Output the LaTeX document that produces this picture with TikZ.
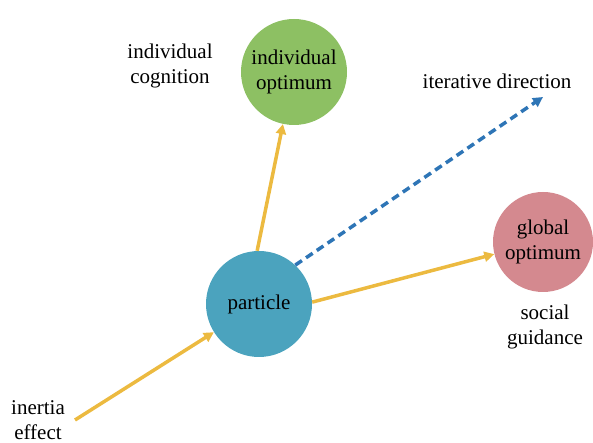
\documentclass[tikz,border=0pt]{standalone}
\usepackage{fontspec}
\setmainfont{Liberation Serif}
\usetikzlibrary{arrows.meta}
\definecolor{cgreen}{RGB}{141,192,99}
\definecolor{cteal}{RGB}{75,163,190}
\definecolor{cpink}{RGB}{212,137,143}
\definecolor{cyel}{RGB}{236,186,64}
\definecolor{cblue}{RGB}{46,117,182}
\tikzset{
  ball/.style={circle, inner sep=0pt, align=center, font=\fontsize{21}{24.5}\selectfont},
  lbl/.style={align=center, font=\fontsize{21}{24.5}\selectfont, inner sep=0pt},
  yarrow/.style={draw=cyel, line width=3.5pt, -{Triangle[length=10pt,width=10pt]}},
  barrow/.style={draw=cblue, line width=3.5pt, dash pattern=on 8pt off 5pt, -{Triangle[length=10pt,width=10pt]}}
}
\begin{document}
\begin{tikzpicture}[x=1pt,y=1pt]
\useasboundingbox (0,0) rectangle (593,443);
\node[ball, fill=cteal, minimum size=106pt] (p) at (259,139) {particle};
\node[ball, fill=cgreen, minimum size=106pt] (g) at (294,371) {individual\\optimum};
\node[ball, fill=cpink, minimum size=100pt] (s) at (543,201) {global\\optimum};
\node[lbl] (ic) at (170,377) {individual\\cognition};
\node[lbl] (it) at (497,362) {iterative direction};
\node[lbl] (sg) at (545,116) {social\\guidance};
\node[lbl] (ie) at (38,23) {inertia\\effect};
\coordinate (ies) at (75,23);
\coordinate (itd) at (543,346);
\draw[yarrow] (p.92) -- (g.258);
\draw[yarrow] (p.2) -- (s.194);
\draw[yarrow] (ies) -- (p.212);
\draw[barrow] (p.47) -- (itd);
\end{tikzpicture}
\end{document}
